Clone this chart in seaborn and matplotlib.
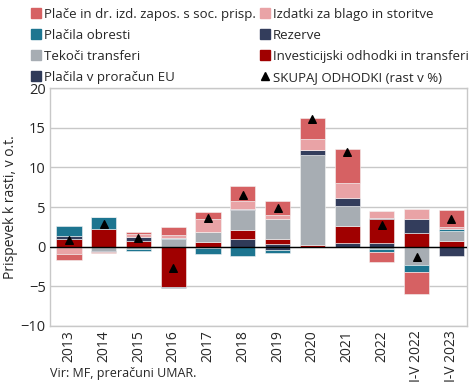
import numpy as np
import matplotlib
matplotlib.use("Agg")
import matplotlib.pyplot as plt
from matplotlib.lines import Line2D
import seaborn as sns


# Data (contributions to growth, p.p.)
years = ["2013", "2014", "2015", "2016", "2017", "2018", "2019",
         "2020", "2021", "2022", "I-V 2022", "I-V 2023"]

place = [-0.75, -0.15, 0.25, 1.05, 0.93, 2.0, 1.77, 2.66, 4.26, -1.3, -2.8, 2.1]
izdatki = [-0.9, 0.0, 0.3, 0.35, 1.6, 0.9, 0.5, 1.43, 1.86, 0.85, 1.22, 0.3]
obresti = [1.22, 1.6, -0.25, 0.15, -0.7, -1.18, -0.35, 0.0, -0.1, -0.35, -0.85, 0.3]
rezerve = [0.46, -0.2, 0.55, -0.1, 0.0, 0.13, -0.4, 0.68, 1.0, 0.12, 1.8, -1.2]
tekoci = [0.0, -0.5, -0.3, 0.93, 1.27, 2.57, 2.57, 11.3, 2.53, -0.3, -2.3, 1.22]
invest = [0.93, 2.2, 0.72, -5.1, 0.63, 1.18, 0.6, 0.2, 2.24, 3.1, 1.7, 0.72]
eu = [0.0, 0.0, 0.0, 0.0, -0.2, 0.93, 0.34, 0.0, 0.42, 0.42, 0.0, 0.0]
skupaj = [0.9, 2.9, 1.05, -2.7, 3.6, 6.5, 4.9, 16.1, 12.0, 2.7, -1.35, 3.5]

labels = {
    "place": "Plače in dr. izd. zapos. s soc. prisp.",
    "izdatki": "Izdatki za blago in storitve",
    "obresti": "Plačila obresti",
    "rezerve": "Rezerve",
    "tekoci": "Tekoči transferi",
    "invest": "Investicijski odhodki in transferi",
    "eu": "Plačila v proračun EU",
}

colors = {
    "place": "#D66163",
    "izdatki": "#E9A3A6",
    "obresti": "#1D7590",
    "rezerve": "#333D5C",
    "tekoci": "#A7ADB3",
    "invest": "#A00000",
    "eu": "#2F3A58",
}

# stacking order from zero outwards
stack = [("eu", eu), ("invest", invest), ("tekoci", tekoci),
         ("rezerve", rezerve), ("obresti", obresti),
         ("izdatki", izdatki), ("place", place)]


sns.set_style("white")
plt.rcParams["font.family"] = ["Open Sans", "DejaVu Sans"]

fig = plt.figure(figsize=(4.75, 3.83), dpi=100)
ax = fig.add_axes([0.105, 0.149, 0.878, 0.621])

pos_base = np.zeros(len(years))
neg_base = np.zeros(len(years))

for key, vals in stack:
    vals = np.array(vals)
    bottom = np.where(vals >= 0, pos_base, neg_base)
    sns.barplot(
        x=years,
        y=vals,
        bottom=bottom,
        color=colors[key],
        width=0.72,
        saturation=1,
        linewidth=0.4,
        edgecolor="#F4F4F4",
        ax=ax,
    )
    pos_base = pos_base + np.where(vals >= 0, vals, 0)
    neg_base = neg_base + np.where(vals < 0, vals, 0)

ax.scatter(np.arange(len(years)), skupaj, marker="^", s=30,
           color="black", zorder=5)

ax.axhline(0, color="black", lw=1, zorder=4)

ax.set_ylim(-10, 20)
ax.set_yticks([-10, -5, 0, 5, 10, 15, 20])
ax.set_xlim(-0.55, len(years) - 0.55)
ax.yaxis.grid(True, color="#C8C8C8", lw=1)
ax.set_axisbelow(True)
for s in ax.spines.values():
    s.set_color("#C8C8C8")
    s.set_linewidth(1)

ax.tick_params(axis="y", labelsize=10.5, length=0, pad=3)
ax.tick_params(axis="x", labelsize=10, length=0, rotation=90, pad=3)
ax.set_ylabel("Prispevek k rasti, v o.t.", fontsize=10, labelpad=2)
ax.set_xlabel("")

fig.text(0.105, 0.015, "Vir: MF, preračuni UMAR.", fontsize=9)

# legend, two columns, row-wise order
def sq(key):
    return Line2D([], [], marker="s", linestyle="none", markersize=7,
                  color=colors[key], label=labels[key])

tri = Line2D([], [], marker="^", linestyle="none", markersize=6,
             color="black", label="SKUPAJ ODHODKI (rast v %)")

col1 = [sq("place"), sq("obresti"), sq("tekoci"), sq("eu")]
col2 = [sq("izdatki"), sq("rezerve"), sq("invest"), tri]

fig.legend(handles=col1 + col2, ncol=2, loc="upper left",
           bbox_to_anchor=(0.045, 1.0), frameon=False, fontsize=9.5,
           handletextpad=0.1, handlelength=1.0, columnspacing=0.2,
           labelspacing=0.6, borderaxespad=0.2)

fig.savefig("out.png", dpi=100)
plt.close()
